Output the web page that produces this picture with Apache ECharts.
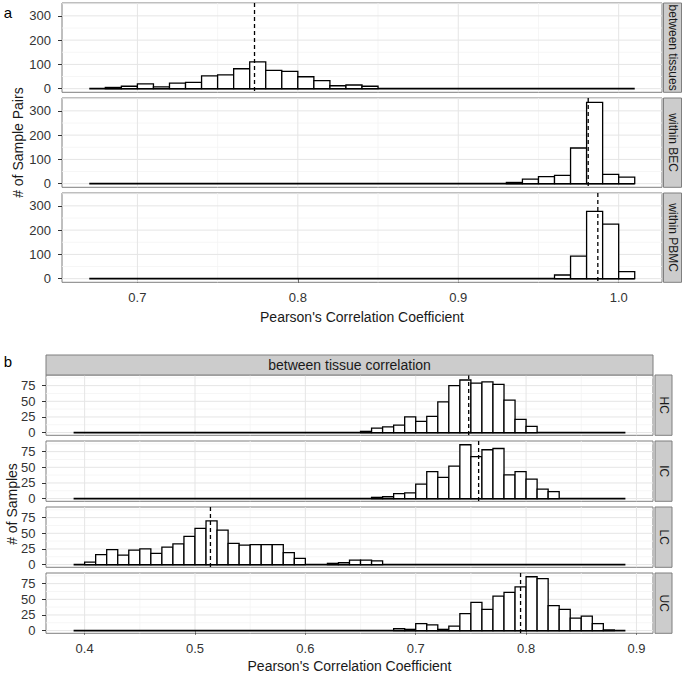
<!DOCTYPE html>
<html>
<head>
<meta charset="utf-8">
<title>Pearson's correlation histograms</title>
<script src="https://cdn.jsdelivr.net/npm/echarts@6.0.0/dist/echarts.min.js"></script>
<style>
    html, body { margin: 0; padding: 0; background: #fff; }
    #chart { width: 685px; height: 676px; }
</style>
</head>
<body>
<div id="chart"></div>
<script>
'use strict';

// ---- panel a : sample pairs ----
var aFacets = ['between tissues', 'within BEC', 'within PBMC'];
var aRange = [0.67, 1.01];
var aStarts = [0.68, 0.93, 0.96];
var betweenTissues = [5, 10, 20, 7, 23, 26, 53, 57, 82, 110, 75, 71, 49, 33, 12, 15, 10];
var withinBEC = [5, 19, 29, 34, 147, 335, 38, 27];
var withinPBMC = [15, 93, 277, 225, 29];
var aMeans = [0.773, 0.981, 0.987];
var aTicks = [0.7, 0.8, 0.9, 1.0];
var aMinorTicks = [0.75, 0.85, 0.95];
var aCountTicks = [0, 100, 200, 300];
var aMinorCounts = [50, 150, 250, 350];

// ---- panel b : between tissue correlation ----
var bFacets = ['HC', 'IC', 'LC', 'UC'];
var bRange = [0.39, 0.89];
var bStarts = [0.65, 0.66, 0.40, 0.68];
var hc = [2, 7, 9, 12, 25, 18, 26, 49, 75, 84, 79, 81, 77, 52, 21, 10];
var ic = [2, 3, 8, 9, 23, 43, 34, 52, 86, 67, 78, 80, 38, 43, 31, 15, 11];
var lc = [4, 16, 24, 15, 23, 25, 18, 28, 33, 45, 58, 70, 55, 34, 31, 32, 32, 32, 19, 10, 0, 0, 2, 3, 7, 7, 6];
var uc = [3, 2, 11, 9, 2, 7, 27, 45, 34, 55, 61, 70, 86, 83, 40, 34, 20, 23, 11, 1];
var bMeans = [0.748, 0.757, 0.514, 0.795];
var bTicks = [0.4, 0.5, 0.6, 0.7, 0.8, 0.9];
var bMinorTicks = [0.45, 0.55, 0.65, 0.75, 0.85];
var bCountTicks = [0, 25, 50, 75];
var bMinorCounts = [12.5, 37.5, 62.5, 87.5];

var binWidth = 0.01;
var xTitle = "Pearson's Correlation Coefficient";

var font = '"Liberation Sans", Arial, Helvetica, sans-serif';
var textDark = '#1a1a1a';
var tickColor = '#333';
var borderColor = '#7f7f7f';

var panels = [
    {
        facets: aFacets, counts: [betweenTissues, withinBEC, withinPBMC], starts: aStarts, means: aMeans,
        range: aRange, xTicks: aTicks, xMinor: aMinorTicks, yTicks: aCountTicks, yMinor: aMinorCounts,
        letter: 'a', letterPos: [8, 12],
        left: 62, width: 600, tops: [3, 98, 193], height: 89.3,
        xLim: [0.653, 1.027], yLim: [-15, 353],
        stripLeft: 663.5, stripWidth: 18,
        labelMargin: 9, yLabelMargin: 11, titleGap: 28,
        yTitle: '# of Sample Pairs', yTitlePos: [18, 142.6]
    },
    {
        facets: bFacets, counts: [hc, ic, lc, uc], starts: bStarts, means: bMeans,
        range: bRange, xTicks: bTicks, xMinor: bMinorTicks, yTicks: bCountTicks, yMinor: bMinorCounts,
        letter: 'b', letterPos: [8, 361],
        left: 46, width: 607, tops: [375, 441, 507, 573], height: 60.3,
        xLim: [0.365, 0.915], yLim: [-4.3, 92],
        stripLeft: 655, stripWidth: 17,
        labelMargin: 9, yLabelMargin: 10.5, titleGap: 26,
        yTitle: '# of Samples', yTitlePos: [12, 504],
        topStrip: { text: 'between tissue correlation', y: 355, height: 20 }
    }
];

function round3(v) {
    return Math.round(v * 1000) / 1000;
}

function renderGridLine(params, api) {
    var cs = params.coordSys;
    var v = api.value(0);
    var isY = api.value(1);
    var minor = api.value(2);
    var shape;
    if (isY) {
        var y = api.coord([0, v])[1];
        shape = { x1: cs.x, y1: y, x2: cs.x + cs.width, y2: y };
    } else {
        var x = api.coord([v, 0])[0];
        shape = { x1: x, y1: cs.y, x2: x, y2: cs.y + cs.height };
    }
    return {
        type: 'line',
        shape: shape,
        style: { stroke: minor ? '#f4f4f4' : '#e5e5e5', lineWidth: minor ? 0.8 : 1 }
    };
}

function renderBar(params, api) {
    var p0 = api.coord([api.value(0), 0]);
    var p1 = api.coord([api.value(1), api.value(2)]);
    return {
        type: 'rect',
        shape: { x: p0[0], y: p1[1], width: p1[0] - p0[0], height: p0[1] - p1[1] },
        style: { fill: '#fff', stroke: '#000', lineWidth: 1.3 }
    };
}

function renderMean(params, api) {
    var cs = params.coordSys;
    var x = api.coord([api.value(0), 0])[0];
    return {
        type: 'line',
        shape: { x1: x, y1: cs.y, x2: x, y2: cs.y + cs.height },
        style: { stroke: '#000', lineWidth: 1.3, lineDash: [4, 3] }
    };
}

function textEl(text, x, y, size, rotation, color) {
    return {
        type: 'text', x: x, y: y, rotation: rotation || 0, silent: true, z: 10,
        style: {
            text: text, fill: color || textDark, font: size + 'px ' + font,
            align: 'center', verticalAlign: 'middle',
            textAlign: 'center', textVerticalAlign: 'middle'
        }
    };
}

var option = {
    animation: false,
    backgroundColor: '#fff',
    textStyle: { fontFamily: font },
    grid: [],
    xAxis: [],
    yAxis: [],
    series: [],
    graphic: []
};

panels.forEach(function (p) {
    option.graphic.push(textEl(p.letter, p.letterPos[0], p.letterPos[1], 15, 0, '#000'));
    option.graphic.push(textEl(p.yTitle, p.yTitlePos[0], p.yTitlePos[1], 14, Math.PI / 2));
    if (p.topStrip) {
        option.graphic.push({
            type: 'rect', silent: true, z: 9,
            shape: { x: p.left, y: p.topStrip.y, width: p.width, height: p.topStrip.height },
            style: { fill: '#cccccc', stroke: borderColor, lineWidth: 1 }
        });
        option.graphic.push(textEl(p.topStrip.text, p.left + p.width / 2, p.topStrip.y + p.topStrip.height / 2, 14, 0));
    }

    p.facets.forEach(function (name, k) {
        var gi = option.grid.length;
        var top = p.tops[k];
        var last = k === p.facets.length - 1;

        option.grid.push({
            left: p.left, top: top, width: p.width, height: p.height,
            show: true, backgroundColor: '#fff', borderColor: borderColor, borderWidth: 1
        });
        option.xAxis.push({
            gridIndex: gi, type: 'value', min: p.xLim[0], max: p.xLim[1],
            axisLine: { show: false },
            splitLine: { show: false },
            axisTick: { show: last, customValues: p.xTicks, length: 4, lineStyle: { color: tickColor } },
            axisLabel: {
                show: last, customValues: p.xTicks, margin: p.labelMargin,
                color: tickColor, fontSize: 13, fontFamily: font,
                formatter: function (v) { return v.toFixed(1); }
            },
            name: last ? xTitle : '', nameLocation: 'middle', nameGap: p.titleGap,
            nameTextStyle: { fontSize: 14, color: textDark, fontFamily: font }
        });
        option.yAxis.push({
            gridIndex: gi, type: 'value', min: p.yLim[0], max: p.yLim[1],
            axisLine: { show: false },
            splitLine: { show: false },
            axisTick: { show: true, customValues: p.yTicks, length: 4, lineStyle: { color: tickColor } },
            axisLabel: { customValues: p.yTicks, margin: p.yLabelMargin, color: tickColor, fontSize: 13, fontFamily: font }
        });

        var gridData = [];
        p.xTicks.forEach(function (v) { gridData.push([v, 0, 0]); });
        p.xMinor.forEach(function (v) { gridData.push([v, 0, 1]); });
        p.yTicks.forEach(function (v) { gridData.push([v, 1, 0]); });
        p.yMinor.forEach(function (v) { gridData.push([v, 1, 1]); });
        // minor first so major lines sit on top
        gridData.sort(function (a, b) { return b[2] - a[2]; });

        option.series.push({
            type: 'custom', xAxisIndex: gi, yAxisIndex: gi, z: 1, silent: true,
            renderItem: renderGridLine, data: gridData
        });

        option.series.push({
            type: 'line', xAxisIndex: gi, yAxisIndex: gi, z: 2, silent: true,
            symbol: 'none', lineStyle: { color: '#000', width: 1.8 },
            data: [[p.range[0], 0], [p.range[1], 0]]
        });

        var bars = [];
        p.counts[k].forEach(function (c, i) {
            if (c > 0) {
                var x0 = round3(p.starts[k] + i * binWidth);
                bars.push([x0, round3(x0 + binWidth), c]);
            }
        });
        option.series.push({
            type: 'custom', xAxisIndex: gi, yAxisIndex: gi, z: 3, silent: true,
            renderItem: renderBar, data: bars
        });

        option.series.push({
            type: 'custom', xAxisIndex: gi, yAxisIndex: gi, z: 4, silent: true,
            renderItem: renderMean, data: [[p.means[k], 0]]
        });

        option.graphic.push({
            type: 'rect', silent: true, z: 9,
            shape: { x: p.stripLeft, y: top, width: p.stripWidth, height: p.height },
            style: { fill: '#cccccc', stroke: borderColor, lineWidth: 1 }
        });
        option.graphic.push(textEl(name, p.stripLeft + p.stripWidth / 2, top + p.height / 2, 12, -Math.PI / 2));
    });
});

var chart = echarts.init(document.getElementById('chart'), null, { renderer: 'svg' });
chart.setOption(option);
</script>
</body>
</html>
